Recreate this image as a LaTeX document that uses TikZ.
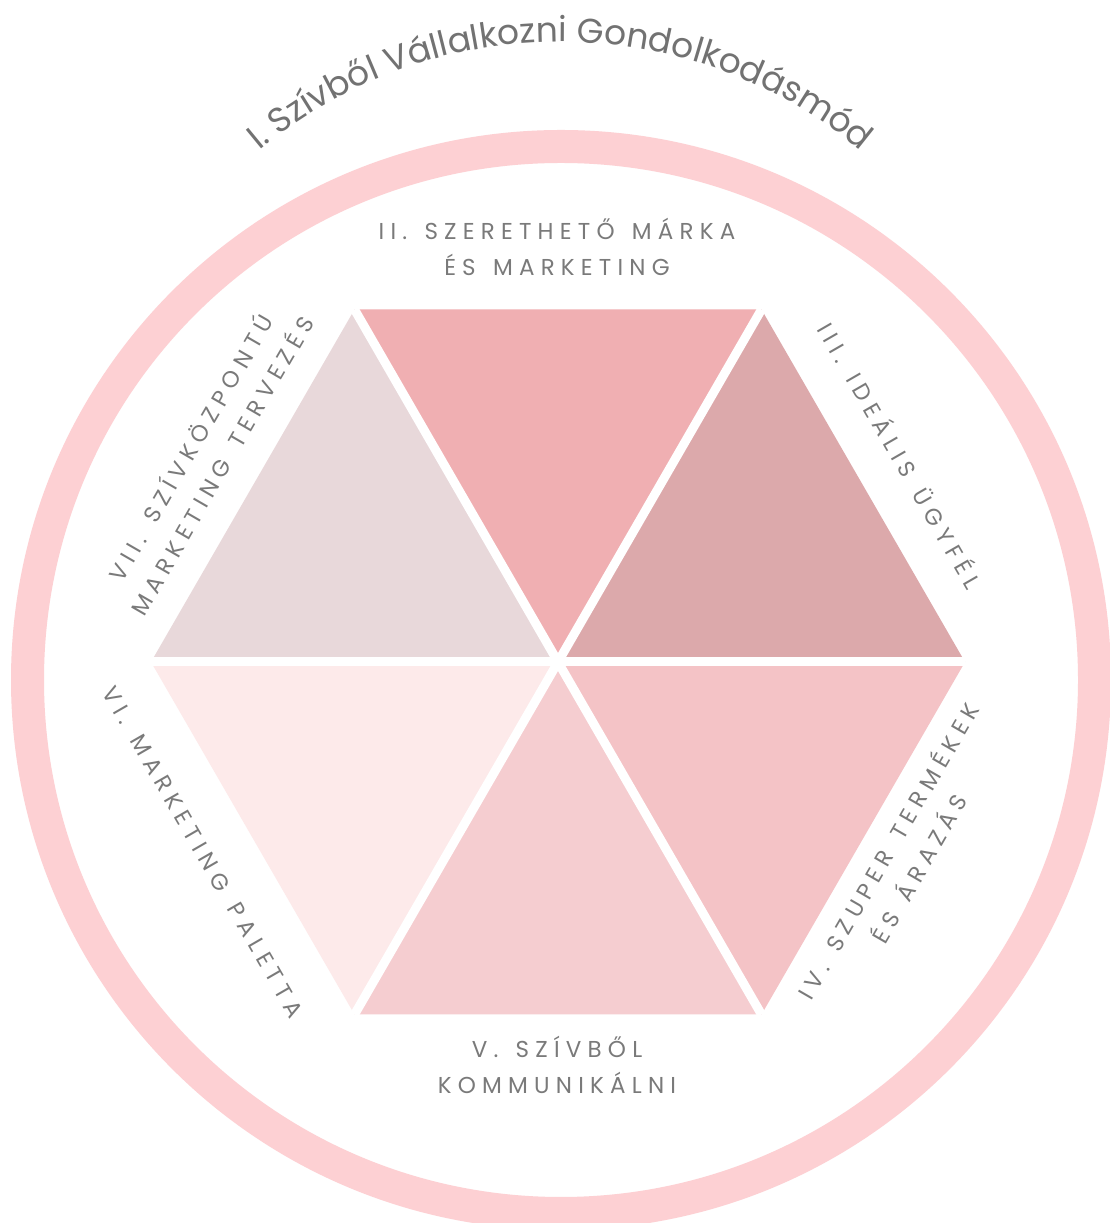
\documentclass[tikz,border=0pt]{standalone}
\usepackage{fontspec}
\setmainfont{Poppins}
\newfontfamily\labfont{Poppins}[LetterSpace=27, WordSpace=1.4]
\newfontfamily\ttlfont{Poppins}
\usetikzlibrary{decorations.text}
\definecolor{ringc}{HTML}{FDD0D3}
\definecolor{tII}{HTML}{F0AFB2}
\definecolor{tIII}{HTML}{DCA9AB}
\definecolor{tIV}{HTML}{F4C3C6}
\definecolor{tV}{HTML}{F5CDD0}
\definecolor{tVI}{HTML}{FDEAEA}
\definecolor{tVII}{HTML}{E8D8DA}
\definecolor{labgray}{HTML}{7A7A7A}
\definecolor{ttlgray}{HTML}{727272}
\begin{document}
\begin{tikzpicture}[x=1pt,y=1pt,
  lab/.style={text=labgray, font=\labfont\fontsize{23}{36}\selectfont, align=center, inner sep=0pt},
  gap/.style={draw=white, line width=9pt}]
\clip (0,0) rectangle (1110,1223);
\fill[white] (0,0) rectangle (1110,1223);
% ring
\draw[ringc, line width=33pt] (561,543) circle[radius=533.5];
% hexagon coordinates
\coordinate (c) at (558,561);
\coordinate (v0) at (965,561);
\coordinate (v60) at (761.5,913.5);
\coordinate (v120) at (354.5,913.5);
\coordinate (v180) at (151,561);
\coordinate (v240) at (354.5,208.5);
\coordinate (v300) at (761.5,208.5);
% triangles
\fill[tII] (c) -- (v60) -- (v120) -- cycle;
\fill[tIII] (c) -- (v0) -- (v60) -- cycle;
\fill[tIV] (c) -- (v300) -- (v0) -- cycle;
\fill[tV] (c) -- (v240) -- (v300) -- cycle;
\fill[tVI] (c) -- (v180) -- (v240) -- cycle;
\fill[tVII] (c) -- (v120) -- (v180) -- cycle;
% gaps
\draw[gap] (v0) -- (v180);
\draw[gap] (v60) -- (v240);
\draw[gap] (v120) -- (v300);
% title along arc
\coordinate (tc) at (560,711);
\path[decorate, decoration={text along path, text align=center,
  text={|\ttlfont\fontsize{34.5}{40}\selectfont\color{ttlgray}|I. Szívből Vállalkozni Gondolkodásmód}}]
  (tc) ++(135:470) arc[start angle=135, end angle=45, radius=470];
% labels
\node[lab] (lII) at (557,976) {II. SZERETHETŐ MÁRKA\\ÉS MARKETING};
\node[lab, rotate=-60] (lIII) at (901,768) {III. IDEÁLIS ÜGYFÉL};
\node[lab, rotate=60] (lIV) at (902,364) {IV. SZUPER TERMÉKEK\\ÉS ÁRAZÁS};
\node[lab] (lV) at (557,158) {V. SZÍVBŐL\\KOMMUNIKÁLNI};
\node[lab, rotate=-60] (lVI) at (203,371) {VI. MARKETING PALETTA};
\node[lab, rotate=60] (lVII) at (205,767) {VII. SZÍVKÖZPONTÚ\\MARKETING TERVEZÉS};
\end{tikzpicture}
\end{document}
